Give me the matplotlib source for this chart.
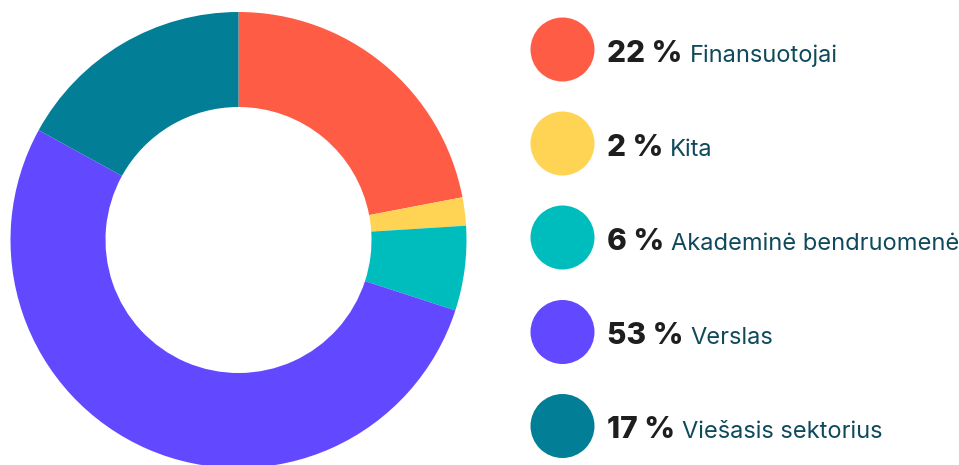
import matplotlib
matplotlib.use("Agg")
import matplotlib.pyplot as plt
from matplotlib.patches import Circle

# Shares by stakeholder group (percent), drawn clockwise from 12 o'clock
categories = ["Finansuotojai", "Kita", "Akademinė bendruomenė", "Verslas", "Viešasis sektorius"]
shares = [22, 2, 6, 53, 17]
colors = ["#FF5C46", "#FFD454", "#00BDBD", "#6249FF", "#027F96"]

W, H = 959, 465
fig = plt.figure(figsize=(W / 100, H / 100), dpi=100)
ax = fig.add_axes([0, 0, 1, 1])

# Donut
cx, cy, r_out, r_in = 238.5, H - 240, 228, 133
ax.pie(shares, colors=colors, startangle=90, counterclock=False,
       center=(cx, cy), radius=r_out, frame=True,
       wedgeprops=dict(width=r_out - r_in, linewidth=0))
ax.set_xlim(0, W)
ax.set_ylim(0, H)
ax.set_aspect("equal")
ax.axis("off")

# Legend with round swatches
lx, lr = 562.5, 32
row_y = [49.5, 143.5, 237.5, 332, 426]
num_x = 607
fig.canvas.draw()
renderer = fig.canvas.get_renderer()
for cat, val, col, ry in zip(categories, shares, colors, row_y):
    yc = H - ry
    ax.add_patch(Circle((lx, yc), lr, color=col, linewidth=0))
    t = ax.text(num_x, yc - 12.5, f"{val} %", fontsize=21.5, fontweight="heavy",
                family="Inter", color="#1E1E1E", va="baseline", ha="left")
    bb = t.get_window_extent(renderer=renderer)
    x_end = ax.transData.inverted().transform((bb.x1, bb.y0))[0]
    ax.text(x_end + 7, yc - 12.5, cat, fontsize=17, family="Inter",
            color="#0E4A5C", va="baseline", ha="left")

fig.savefig("out.png", dpi=100)
